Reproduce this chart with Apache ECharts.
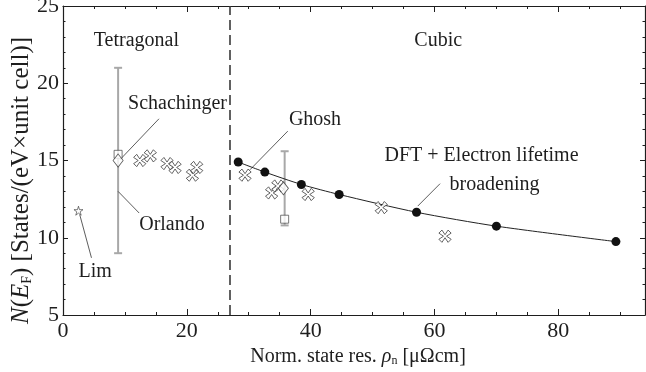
<!DOCTYPE html>
<html>
<head>
<meta charset="utf-8">
<script src="https://cdn.jsdelivr.net/npm/echarts@6/dist/echarts.min.js"></script>
<style>
  html, body { margin: 0; padding: 0; background: #fff; }
  #chart { width: 646px; height: 372px; }
</style>
</head>
<body>
<div id="chart"></div>
<script>
// Normal-state resistivity (µΩcm) vs density of states at the Fermi level
const xMin = 0, xMax = 94, yMin = 5, yMax = 25;
const phaseBoundary = 27;

// DFT + electron lifetime broadening
const dftRho = [28.3, 32.6, 38.5, 44.6, 57.1, 70.0, 89.3];
const dftDos = [14.9, 14.25, 13.45, 12.8, 11.65, 10.75, 9.75];

// Open crosses
const crossRho = [12.4, 14.1, 16.8, 18.1, 20.9, 21.6, 29.4, 33.7, 34.7, 39.6, 51.4, 61.7];
const crossDos = [15.0, 15.3, 14.8, 14.55, 14.05, 14.55, 14.05, 12.9, 13.35, 12.8, 11.95, 10.1];

// Open diamonds with error bars
const diamondRho = [8.9, 35.6];
const diamondDos = [15.0, 13.2];
const errRho = [8.9, 35.8];
const errLow = [9.0, 10.8];
const errHigh = [21.0, 15.6];

// Open squares
const squareRho = [8.9, 35.8];
const squareDos = [15.4, 11.2];

// Star (Lim)
const starRho = [2.5];
const starDos = [11.75];

// Text annotations: [rho, dos], text
const noteText = ['Tetragonal', 'Cubic', 'Schachinger', 'Orlando', 'Lim', 'Ghosh', 'DFT + Electron lifetime', 'broadening'];
const noteRho = [11.85, 60.6, 18.5, 17.6, 5.2, 40.7, 67.6, 69.7];
const noteDos = [22.75, 22.75, 18.7, 10.85, 7.8, 17.65, 15.3, 13.4];

// Leader lines: from [rho, dos] to [rho, dos]
const leaderFromRho = [2.7, 8.9, 9.2, 30.2, 57.3];
const leaderFromDos = [11.5, 13.0, 15.05, 14.4, 12.05];
const leaderToRho = [4.6, 12.3, 15.5, 36.3, 60.9];
const leaderToDos = [8.7, 11.6, 17.7, 16.9, 13.5];

const FONT = '"Liberation Serif", "Times New Roman", serif';
const INK = '#1e1e1e';

const zip = (a, b) => a.map((v, i) => [v, b[i]]);

const crossPath = 'path://M4,0 L8,0 L7,5 L12,4 L12,8 L7,7 L8,12 L4,12 L5,7 L0,8 L0,4 L5,5 Z';
const starPath = 'path://M50,0 L61,35 L98,35 L68,57 L79,91 L50,70 L21,91 L32,57 L2,35 L39,35 Z';

function xAxisDef(pos, interval, tickLen, showLabel, showLine) {
  return {
    type: 'value', position: pos, min: xMin, max: xMax, interval: interval,
    axisLine: { show: showLine, onZero: false, lineStyle: { color: INK, width: 1.2 } },
    axisTick: { show: true, inside: true, length: tickLen, lineStyle: { color: INK, width: 1 } },
    axisLabel: {
      show: showLabel, margin: 5, color: INK, fontFamily: FONT, fontSize: 22,
      formatter: v => (v % 20 === 0 ? String(v) : '')
    },
    splitLine: { show: false }
  };
}
function yAxisDef(pos, interval, tickLen, showLabel, showLine) {
  return {
    type: 'value', position: pos, min: yMin, max: yMax, interval: interval,
    axisLine: { show: showLine, onZero: false, lineStyle: { color: INK, width: 1.2 } },
    axisTick: { show: true, inside: true, length: tickLen, lineStyle: { color: INK, width: 1 } },
    axisLabel: {
      show: showLabel, margin: 4, color: INK, fontFamily: FONT, fontSize: 22,
      formatter: v => (v % 5 === 0 ? String(v) : '')
    },
    splitLine: { show: false }
  };
}

const xAxes = [
  xAxisDef('bottom', 5, 3, true, true),
  xAxisDef('bottom', 20, 6, false, false),
  xAxisDef('top', 5, 3, false, true),
  xAxisDef('top', 20, 6, false, false)
];
Object.assign(xAxes[0], {
  name: '{n|Norm. state res. }{i|ρ}{s|n}{n| [μΩcm]}',
  nameLocation: 'middle', nameGap: 23,
  nameTextStyle: {
    color: INK, fontFamily: FONT, fontSize: 20, padding: [0, 0, 0, 8],
    rich: {
      n: { fontFamily: FONT, fontSize: 20, color: INK },
      i: { fontFamily: FONT, fontSize: 20, fontStyle: 'italic', color: INK },
      s: { fontFamily: FONT, fontSize: 12, color: INK, verticalAlign: 'bottom', padding: [7, 0, 0, 0] }
    }
  }
});

const yAxes = [
  yAxisDef('left', 1, 2.5, true, true),
  yAxisDef('left', 5, 5, false, false),
  yAxisDef('right', 1, 2.5, false, true),
  yAxisDef('right', 5, 5, false, false)
];
Object.assign(yAxes[0], {
  name: '{i|N}{n|(}{i|E}{s|F}{n|) [States/(eV×unit cell)]}',
  nameLocation: 'middle', nameGap: 29, nameRotate: 90, nameMoveOverlap: false,
  nameTextStyle: {
    color: INK, fontFamily: FONT, fontSize: 25, padding: [0, 40, 0, 0],
    rich: {
      n: { fontFamily: FONT, fontSize: 25, color: INK },
      i: { fontFamily: FONT, fontSize: 25, fontStyle: 'italic', color: INK },
      s: { fontFamily: FONT, fontSize: 14, color: INK, verticalAlign: 'bottom', padding: [8, 0, 0, 0] }
    }
  }
});

const chart = echarts.init(document.getElementById('chart'), null, { renderer: 'canvas' });

chart.setOption({
  animation: false,
  backgroundColor: '#fff',
  grid: { left: 63, right: 1, top: 6, bottom: 57, containLabel: false, outerBoundsMode: 'none' },
  xAxis: xAxes,
  yAxis: yAxes,
  series: [
    {
      // phase boundary between tetragonal and cubic
      type: 'line', data: [], xAxisIndex: 0, yAxisIndex: 0,
      markLine: {
        silent: true, symbol: 'none', label: { show: false },
        lineStyle: { color: '#3a3a3a', type: [10, 5], width: 1.6 },
        data: [{ xAxis: phaseBoundary }]
      }
    },
    {
      // leader lines for annotations
      type: 'custom', xAxisIndex: 0, yAxisIndex: 0, silent: true, z: 3,
      data: leaderFromRho.map((r, i) => [r, leaderFromDos[i], leaderToRho[i], leaderToDos[i]]),
      renderItem: (params, api) => {
        const a = api.coord([api.value(0), api.value(1)]);
        const b = api.coord([api.value(2), api.value(3)]);
        return { type: 'line', shape: { x1: a[0], y1: a[1], x2: b[0], y2: b[1] },
                 style: { stroke: '#333', lineWidth: 0.8 } };
      }
    },
    {
      // error bars
      type: 'custom', xAxisIndex: 0, yAxisIndex: 0, silent: true, z: 2,
      data: errRho.map((r, i) => [r, errLow[i], errHigh[i]]),
      renderItem: (params, api) => {
        const lo = api.coord([api.value(0), api.value(1)]);
        const hi = api.coord([api.value(0), api.value(2)]);
        const c = 4;
        const st = { stroke: '#a8a8a8', lineWidth: 2 };
        return { type: 'group', children: [
          { type: 'line', shape: { x1: lo[0], y1: lo[1], x2: hi[0], y2: hi[1] }, style: st },
          { type: 'line', shape: { x1: lo[0] - c, y1: lo[1], x2: lo[0] + c, y2: lo[1] }, style: st },
          { type: 'line', shape: { x1: hi[0] - c, y1: hi[1], x2: hi[0] + c, y2: hi[1] }, style: st }
        ] };
      }
    },
    {
      name: 'DFT + Electron lifetime broadening', type: 'line', xAxisIndex: 0, yAxisIndex: 0, z: 4,
      data: zip(dftRho, dftDos), smooth: 0.25,
      symbol: 'circle', symbolSize: 9, showSymbol: true,
      lineStyle: { color: '#222', width: 1 },
      itemStyle: { color: '#111', borderColor: '#111', borderWidth: 0 }
    },
    {
      name: 'cross', type: 'scatter', xAxisIndex: 0, yAxisIndex: 0, z: 5,
      data: zip(crossRho, crossDos), symbol: crossPath, symbolSize: 13, symbolRotate: 45,
      itemStyle: { color: '#fff', borderColor: '#333', borderWidth: 0.9 }
    },
    {
      name: 'square', type: 'scatter', xAxisIndex: 0, yAxisIndex: 0, z: 5,
      data: zip(squareRho, squareDos), symbol: 'rect', symbolSize: 8,
      itemStyle: { color: '#fff', borderColor: '#444', borderWidth: 0.9 }
    },
    {
      name: 'diamond', type: 'scatter', xAxisIndex: 0, yAxisIndex: 0, z: 6,
      data: zip(diamondRho, diamondDos), symbol: 'diamond', symbolSize: [10, 13],
      itemStyle: { color: '#fff', borderColor: '#333', borderWidth: 0.9 }
    },
    {
      name: 'Lim', type: 'scatter', xAxisIndex: 0, yAxisIndex: 0, z: 5,
      data: zip(starRho, starDos), symbol: starPath, symbolSize: 9,
      itemStyle: { color: '#fff', borderColor: '#333', borderWidth: 0.8 }
    },
    {
      // text annotations
      type: 'custom', xAxisIndex: 0, yAxisIndex: 0, silent: true, z: 7,
      data: noteRho.map((r, i) => [r, noteDos[i]]),
      renderItem: (params, api) => {
        const p = api.coord([api.value(0), api.value(1)]);
        return { type: 'text', x: p[0], y: p[1],
                 style: { text: noteText[params.dataIndex], fill: INK,
                          font: '20px ' + FONT, align: 'center', verticalAlign: 'middle' } };
      }
    }
  ]
});
</script>
</body>
</html>
